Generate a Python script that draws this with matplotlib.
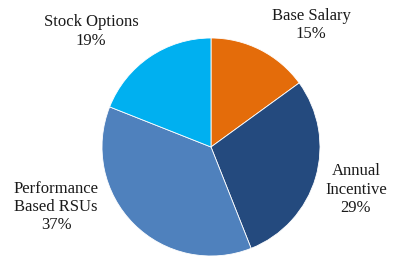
import matplotlib
matplotlib.use("Agg")
import matplotlib.pyplot as plt

categories = ["Base Salary", "Annual\nIncentive", "Performance\nBased RSUs", "Stock Options"]
values = [15, 29, 37, 19]
colors = ["#E46C0A", "#244A7E", "#4F81BD", "#00B0F0"]
label_pos = [(0.92, 1.12), (1.33, -0.39), (-1.42, -0.55), (-1.10, 1.06)]

plt.rcParams['font.family'] = ['Liberation Serif', 'DejaVu Serif']

fig = plt.figure(figsize=(3.96, 2.57), dpi=100)
ax = fig.add_axes([101/396, 1/257, 220/396, 218/257])
ax.pie(values, colors=colors, startangle=90, counterclock=False,
       wedgeprops=dict(edgecolor="white", linewidth=0.6), radius=1.0)
ax.set_xlim(-1, 1)
ax.set_ylim(-1, 1)
ax.set_aspect('equal')
for cat, v, (x, y) in zip(categories, values, label_pos):
    ax.text(x, y, f"{cat}\n{v}%", ha="center", va="center", fontsize=12,
            color="#1a1a1a", linespacing=1.2, clip_on=False)
fig.savefig("out.png", dpi=100)
